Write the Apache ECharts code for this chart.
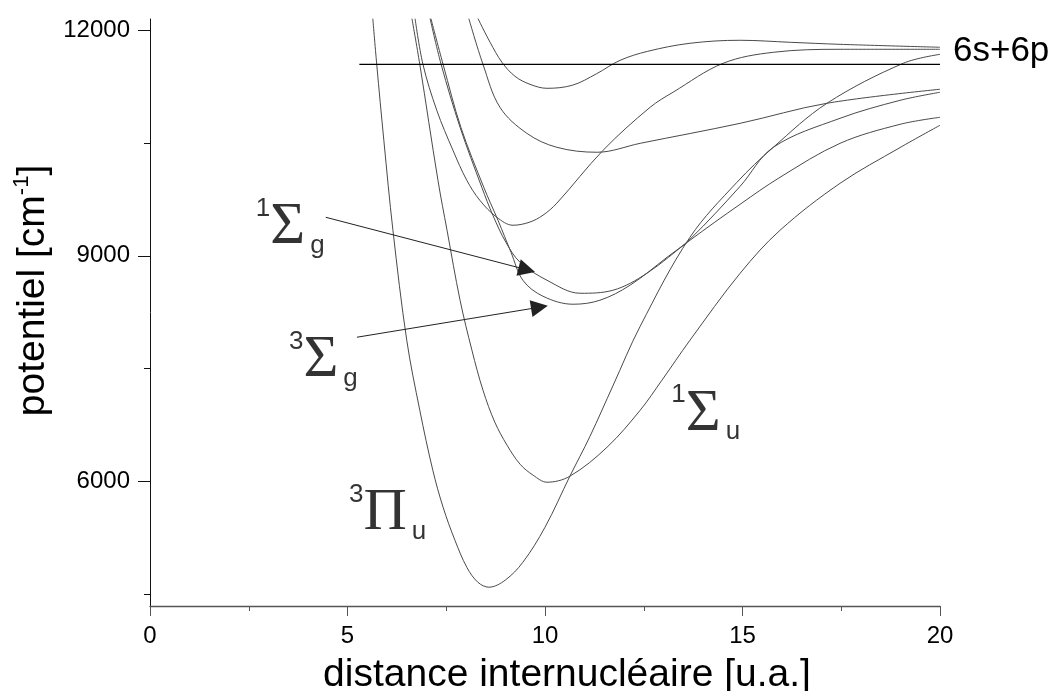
<!DOCTYPE html>
<html>
<head>
<meta charset="utf-8">
<title>Courbes de potentiel</title>
<script src="https://cdn.jsdelivr.net/npm/echarts@6/dist/echarts.min.js"></script>
<style>
html, body { margin: 0; padding: 0; background: #fff; }
#chart { width: 1062px; height: 691px; }
</style>
</head>
<body>
<div id="chart"></div>
<script>
// courbes de potentiel (distance en u.a., energie en cm-1)
const pi3u = [[5.64, 12159], [5.74, 11547], [5.92, 10536], [6.15, 9339], [6.50, 7876], [6.83, 6945], [7.16, 6146], [7.42, 5654], [7.72, 5215], [8.02, 4856], [8.30, 4656], [8.58, 4590], [8.99, 4683], [9.44, 4922], [10.00, 5388], [10.63, 6067], [11.14, 6599], [11.72, 7270], [12.41, 8062], [13.67, 9246], [14.86, 9978], [15.78, 10443], [17.14, 11029], [19.07, 11561], [20, 11680]];
const sigma1u = [[6.63, 12159], [6.83, 11547], [7.29, 10004], [7.52, 9339], [7.85, 8408], [8.15, 7743], [8.43, 7211], [8.73, 6785], [9.04, 6479], [9.37, 6226], [9.70, 6080], [10.05, 5987], [10.63, 6067], [11.57, 6452], [12.41, 6945], [12.96, 7344], [13.67, 7876], [14.94, 8767], [15.95, 9339], [17.47, 9964], [18.99, 10440], [20, 10736]];
const sigma3g = [[7.11, 12159], [7.42, 11547], [7.87, 10709], [8.45, 9911], [8.81, 9472], [9.14, 9046], [9.44, 8674], [9.95, 8461], [10.71, 8355], [11.39, 8408], [12.15, 8607], [13.09, 8980], [13.67, 9219], [14.94, 9924], [15.78, 10443], [17.47, 10829], [18.99, 11068], [20, 11175]];
const sigma1g = [[7.09, 12159], [7.37, 11547], [7.85, 10709], [8.40, 9911], [8.68, 9539], [9.01, 9179], [9.37, 8913], [10.05, 8674], [10.89, 8501], [11.72, 8541], [12.58, 8767], [13.67, 9206], [14.94, 9685], [15.95, 10044], [17.47, 10496], [18.99, 10749], [20, 10842]];
const curveE = [[6.71, 12159], [6.91, 11547], [7.26, 10935], [7.67, 10403], [8.02, 10004], [8.35, 9738], [8.78, 9512], [9.19, 9406], [9.60, 9445], [9.95, 9540], [10.30, 9700], [11.47, 10403], [12.66, 10975], [13.24, 11175], [14.51, 11561], [15.78, 11707], [17.47, 11747], [20, 11747]];
const curveF = [[8.07, 12159], [8.43, 11547], [8.86, 10975], [9.54, 10629], [10.30, 10443], [11.32, 10377], [12.41, 10496], [14.94, 10762], [17.14, 11029], [20, 11215]];
const curveG = [[8.30, 12159], [8.61, 11840], [8.91, 11574], [9.24, 11388], [9.62, 11281], [10.05, 11228], [10.70, 11270], [11.30, 11420], [11.90, 11600], [12.60, 11720], [13.67, 11827], [14.94, 11867], [16.21, 11840], [17.47, 11813], [20, 11774]];

// asymptote 6s+6p
const asymptote = [[5.3, 11547], [20, 11547]];

// fleches vers les etats Sigma g
const arrowSg1 = [[4.45, 9512], [9.54, 8814]];
const arrowSg3 = [[5.24, 7916], [9.86, 8315]];

// etiquettes des etats
const stateAnchors = [[2.69, 9791], [3.53, 8022], [5.05, 5980], [13.21, 7310]];
const stateSpins = ['1', '3', '3', '1'];
const stateLetters = ['Σ', 'Σ', 'Π', 'Σ'];
const stateSyms = ['g', 'g', 'u', 'u'];

// graduations
const yMajor = [6000, 9000, 12000];
const yMinor = [4500, 7500, 10500];

const sans = 'Liberation Sans';
const serif = 'Liberation Serif';
const curveStyle = { color: '#4a4a4a', width: 1 };

function curve(data) {
    return {
        type: 'line',
        data: data,
        showSymbol: false,
        smooth: 0.35,
        silent: true,
        lineStyle: curveStyle
    };
}

let myChart = echarts.init(document.getElementById('chart'));

option = {
    animation: false,
    backgroundColor: '#fff',
    textStyle: { fontFamily: sans },
    grid: { left: 150, right: 122, top: 19, bottom: 85, containLabel: false, outerBoundsMode: 'none' },
    xAxis: {
        type: 'value',
        min: 0,
        max: 20,
        interval: 5,
        name: 'distance internucléaire [u.a.]',
        nameLocation: 'middle',
        nameGap: 39,
        nameTextStyle: { fontSize: 39, lineHeight: 44, color: '#000', fontFamily: sans, padding: [0, 0, 0, 44] },
        axisLine: { onZero: false, lineStyle: { color: '#555', width: 1.3 } },
        axisTick: { length: 10, lineStyle: { color: '#555' } },
        minorTick: { show: true, splitNumber: 2, length: 5, lineStyle: { color: '#555' } },
        axisLabel: { fontSize: 24, color: '#000', margin: 18, fontFamily: sans },
        splitLine: { show: false }
    },
    yAxis: [{
        type: 'value',
        min: 4340,
        max: 12150,
        name: '{a|potentiel [cm}{s|-1}{a|]}',
        nameLocation: 'middle',
        nameGap: 90,
        nameTextStyle: {
            color: '#000',
            padding: [0, 0, 0, 44],
            rich: {
                a: { fontSize: 39, lineHeight: 44, fontFamily: sans, color: '#000' },
                s: { fontSize: 22, lineHeight: 28, fontFamily: sans, color: '#000', verticalAlign: 'top' }
            }
        },
        axisLine: { show: true, onZero: false, lineStyle: { color: '#111', width: 1 } },
        axisTick: { show: true, length: 12, customValues: yMajor, lineStyle: { color: '#111' } },
        axisLabel: {
            customValues: yMajor,
            fontSize: 24,
            color: '#000',
            margin: 20,
            fontFamily: sans,
            formatter: function (v) { return String(v); }
        },
        splitLine: { show: false }
    }, {
        type: 'value',
        min: 4340,
        max: 12150,
        position: 'left',
        axisLine: { show: false },
        axisTick: { show: true, length: 6, customValues: yMinor, lineStyle: { color: '#111' } },
        axisLabel: { show: false },
        splitLine: { show: false }
    }],
    series: [
        curve(pi3u),
        curve(sigma1u),
        curve(sigma3g),
        curve(sigma1g),
        curve(curveE),
        curve(curveF),
        curve(curveG),
        {
            type: 'line',
            data: asymptote,
            showSymbol: false,
            silent: true,
            lineStyle: { color: '#000', width: 1.3 },
            endLabel: {
                show: true,
                formatter: '6s+6p',
                fontSize: 35,
                fontFamily: sans,
                color: '#000',
                distance: 13,
                offset: [0, -13]
            },
            markLine: {
                silent: true,
                symbol: ['none', 'triangle'],
                symbolSize: [17, 17],
                label: { show: false },
                lineStyle: { type: 'solid', color: '#222', width: 1 },
                data: [
                    [{ coord: arrowSg1[0] }, { coord: arrowSg1[1] }],
                    [{ coord: arrowSg3[0] }, { coord: arrowSg3[1] }]
                ]
            }
        },
        {
            type: 'scatter',
            data: stateAnchors,
            symbolSize: 1,
            silent: true,
            itemStyle: { color: 'rgba(0,0,0,0)' },
            label: {
                show: true,
                position: [0, 0],
                align: 'left',
                verticalAlign: 'top',
                formatter: function (p) {
                    let i = p.dataIndex;
                    return '{sup|' + stateSpins[i] + '}{big|' + stateLetters[i] + '}{sub|' + stateSyms[i] + '}';
                },
                rich: {
                    sup: { fontSize: 26, lineHeight: 16, fontFamily: sans, color: '#000', verticalAlign: 'top' },
                    big: { fontSize: 60, lineHeight: 63, fontFamily: serif, color: '#000' },
                    sub: { fontSize: 26, lineHeight: 26, fontFamily: sans, color: '#000', verticalAlign: 'bottom', padding: [0, 0, 0, 5] }
                }
            }
        }
    ]
};

myChart.setOption(option);
</script>
</body>
</html>
